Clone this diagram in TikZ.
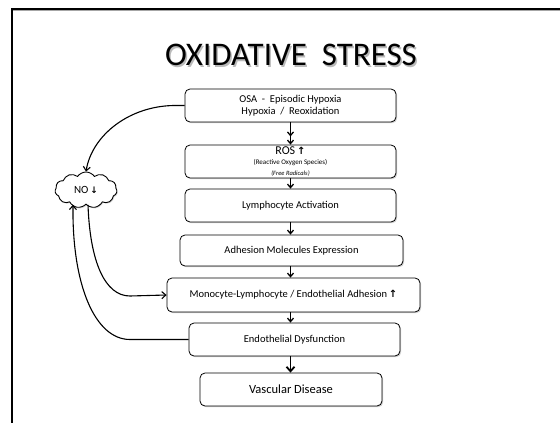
\documentclass[tikz,border=0pt]{standalone}
\usepackage{fontspec}
\setmainfont{Carlito}
\newfontfamily\symfont{DejaVu Sans}
\usetikzlibrary{arrows.meta,shapes.symbols,shadows}
\begin{document}
\begin{tikzpicture}[x=1pt,y=-1pt,
 box/.style={draw, line width=0.8pt, rounded corners=5pt, fill=white, align=center, inner sep=0pt,
   drop shadow={opacity=0.35, shadow xshift=1.2pt, shadow yshift=-1.2pt}},
 flow/.style={line width=1.3pt, -{Straight Barb[length=3.5pt,width=6pt]}},
 dflow/.style={line width=1.3pt, -{Straight Barb[length=3.5pt,width=6pt,sep=3pt] Straight Barb[length=3.5pt,width=6pt]}},
 bflow/.style={line width=1.8pt, -{Straight Barb[length=4.5pt,width=8pt]}},
 link/.style={line width=1.1pt, -{Straight Barb[length=4pt,width=7pt]}},
 txt/.style={font=\fontsize{10.5}{12}\selectfont},
]
\useasboundingbox (0,0) rectangle (560,423);
\fill[white] (0,0) rectangle (560,423);
\draw[line width=1pt, black!35] (13,10.8) -- (560,10.8);
\draw[line width=1.6pt] (12,423) -- (12,9) -- (560,9);

% title with shadow
\node[font=\fontsize{33}{35}\selectfont, text=black!45, opacity=0.6] at (292.5,56.5) {OXIDATIVE\ \ STRESS};
\node[font=\fontsize{33}{35}\selectfont] (title) at (291,55) {OXIDATIVE\ \ STRESS};

\node[box, txt, minimum width=211pt, minimum height=33pt] (osa) at (290.5,105.5)
  {OSA\ \ -\ \ Episodic Hypoxia\\Hypoxia\ \ /\ \ Reoxidation};
\node[box, minimum width=211pt, minimum height=33pt] (ros) at (290.5,161.5)
  {{\fontsize{12}{12}\selectfont ROS\,{\symfont\bfseries\fontsize{10}{10}\selectfont ↑}}\\[-2pt]
   {\fontsize{7}{7.5}\selectfont (Reactive Oxygen Species)}\\[-1.5pt]
   {\fontsize{6.5}{7}\selectfont\itshape (Free Radicals)}};
\node[box, txt, minimum width=211pt, minimum height=33pt] (lym) at (290.5,205.5) {Lymphocyte Activation};
\node[box, txt, minimum width=223pt, minimum height=31pt] (adh) at (291.5,250.5) {Adhesion Molecules Expression};
\node[box, txt, minimum width=253pt, minimum height=34pt] (mono) at (293.5,295)
  {Monocyte-Lymphocyte / Endothelial Adhesion\,{\symfont\bfseries\fontsize{10}{10}\selectfont ↑}};
\node[box, txt, minimum width=211pt, minimum height=33pt] (ed) at (294.5,339.5) {Endothelial Dysfunction};
\node[box, font=\fontsize{12.5}{14}\selectfont, minimum width=182pt, minimum height=33pt] (vd) at (291,389.5) {Vascular Disease};

\node[cloud, draw, line width=0.9pt, cloud puffs=11, cloud puff arc=110, aspect=1.8,
  minimum width=62pt, minimum height=36pt, inner sep=0pt, fill=white,
  drop shadow={opacity=0.3, shadow xshift=1pt, shadow yshift=-1pt},
  font=\fontsize{11}{12}\selectfont] (no) at (86,190) {NO\,{\symfont\bfseries\fontsize{9}{10}\selectfont ↓}};

% vertical flow
\draw[dflow] (osa.south) -- (osa.south |- ros.north);
\draw[flow] (ros.south) -- (ros.south |- lym.north);
\draw[flow] (lym.south) -- (lym.south |- adh.north);
\draw[flow] (adh.south -| lym.south) -- (lym.south |- mono.north);
\draw[flow] (lym.south |- mono.south) -- (lym.south |- ed.north);
\draw[bflow] (lym.south |- ed.south) -- (lym.south |- vd.north);

% side links
\draw[link] (osa.west) -- ++(-8,0) .. controls (130,105) and (92,135) .. (no.north);
\draw[link] ([xshift=2pt]no.south) .. controls (90,262) and (105,296) .. (130,296) -- (mono.west);
\draw[link] (ed.west) -- (130,339.5) .. controls (95,339.5) and (72,285) .. ([xshift=-13pt]no.south);
\end{tikzpicture}
\end{document}
